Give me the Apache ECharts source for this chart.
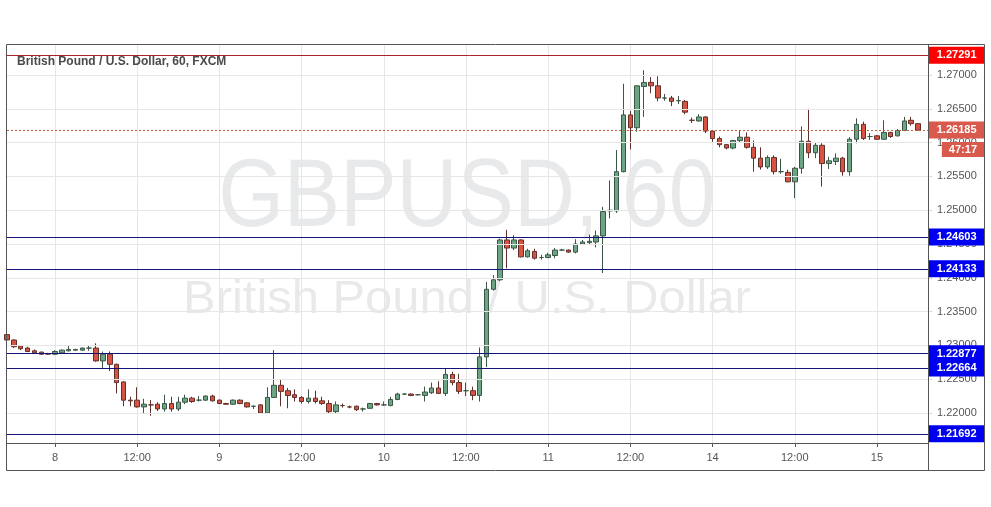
<!DOCTYPE html>
<html><head><meta charset="utf-8">
<script src="https://cdn.jsdelivr.net/npm/echarts@6/dist/echarts.min.js"></script>
<style>html,body{margin:0;padding:0;background:#fff}#c{width:991px;height:507px}</style>
</head><body><div id="c"></div>
<script>
// ---- data: hourly candles [open, close, low, high] per trading day ----
const dayBlocks = [['7',17,23],['8',0,23],['9',0,23],['10',0,23],['11',0,23],['14',0,23],['15',0,6]];
const day7 = [
[1.2316,1.2308,1.2306,1.2318],[1.2308,1.2298,1.2296,1.2309],[1.2299,1.2295,1.2293,1.2300],
[1.2296,1.2291,1.2290,1.2298],[1.2292,1.2289,1.2288,1.2294],[1.2290,1.2287,1.2286,1.2291],
[1.2288,1.2287,1.2286,1.2289]];
const day8 = [
[1.2287,1.2291,1.2286,1.2293],[1.2289,1.2293,1.2288,1.2294],[1.2292,1.2294,1.2291,1.2300],
[1.2293,1.2294,1.2292,1.2295],[1.2293,1.2296,1.2292,1.2297],[1.2296,1.2296,1.2292,1.2300],
[1.2296,1.2277,1.2276,1.2303],[1.2277,1.2287,1.2265,1.2291],[1.2287,1.2272,1.2262,1.2291],
[1.2272,1.2245,1.2229,1.2273],[1.2246,1.2219,1.2210,1.2247],[1.2219,1.2218,1.2210,1.2224],
[1.2219,1.2209,1.2208,1.2238],[1.2209,1.2213,1.2200,1.2221],[1.2212,1.2212,1.2196,1.2219],
[1.2213,1.2206,1.2203,1.2216],[1.2206,1.2214,1.2202,1.2227],[1.2214,1.2206,1.2202,1.2224],
[1.2206,1.2216,1.2203,1.2224],[1.2216,1.2222,1.2213,1.2227],[1.2222,1.2217,1.2215,1.2224],
[1.2219,1.2219,1.2217,1.2225],[1.2219,1.2225,1.2218,1.2226],[1.2225,1.2218,1.2217,1.2227]];
const day9 = [
[1.2219,1.2214,1.2213,1.2220],[1.2214,1.2213,1.2212,1.2215],[1.2213,1.2219,1.2212,1.2220],
[1.2219,1.2214,1.2213,1.2220],[1.2215,1.2209,1.2208,1.2216],[1.2210,1.2210,1.2206,1.2211],
[1.2212,1.2200,1.2199,1.2213],[1.2200,1.2223,1.2200,1.2238],[1.2223,1.2241,1.2222,1.2293],
[1.2241,1.2232,1.2210,1.2250],[1.2233,1.2226,1.2207,1.2237],[1.2227,1.2223,1.2217,1.2235],
[1.2223,1.2217,1.2214,1.2225],[1.2217,1.2222,1.2214,1.2235],[1.2222,1.2217,1.2214,1.2233],
[1.2218,1.2214,1.2212,1.2224],[1.2214,1.2202,1.2199,1.2219],[1.2202,1.2212,1.2199,1.2217],
[1.2211,1.2211,1.2208,1.2214],[1.2209,1.2209,1.2207,1.2211],[1.2210,1.2205,1.2203,1.2211],
[1.2206,1.2206,1.2202,1.2208],[1.2207,1.2214,1.2206,1.2215],[1.2214,1.2212,1.2211,1.2215]];
const day10 = [
[1.2212,1.2212,1.2211,1.2217],[1.2211,1.2220,1.2210,1.2224],[1.2220,1.2228,1.2219,1.2230],
[1.2228,1.2228,1.2227,1.2229],[1.2228,1.2226,1.2225,1.2229],[1.2227,1.2227,1.2226,1.2228],
[1.2226,1.2231,1.2217,1.2239],[1.2230,1.2237,1.2228,1.2245],[1.2237,1.2229,1.2228,1.2247],
[1.2229,1.2257,1.2225,1.2266],[1.2257,1.2245,1.2241,1.2261],[1.2245,1.2232,1.2228,1.2258],
[1.2233,1.2233,1.2225,1.2245],[1.2233,1.2226,1.2219,1.2239],[1.2226,1.2283,1.2217,1.2297],
[1.2283,1.2383,1.2268,1.2394],[1.2383,1.2397,1.2381,1.2404],[1.2397,1.2456,1.2395,1.2458],
[1.2456,1.2444,1.2414,1.2471],[1.2444,1.2456,1.2441,1.2463],[1.2456,1.2431,1.2430,1.2457],
[1.2431,1.2440,1.2430,1.2443],[1.2439,1.2429,1.2427,1.2443],[1.2430,1.2430,1.2427,1.2434]];
const day11 = [
[1.2430,1.2434,1.2429,1.2437],[1.2433,1.2441,1.2429,1.2444],[1.2441,1.2441,1.2440,1.2443],
[1.2441,1.2438,1.2437,1.2442],[1.2438,1.2450,1.2436,1.2457],[1.2450,1.2453,1.2449,1.2456],
[1.2452,1.2454,1.2450,1.2464],[1.2453,1.2462,1.2445,1.2470],[1.2462,1.2498,1.2407,1.2505],
[1.2499,1.2500,1.2488,1.2544],[1.2499,1.2557,1.2496,1.2589],[1.2557,1.2641,1.2556,1.2687],
[1.2641,1.2622,1.2590,1.2647],[1.2622,1.2684,1.2616,1.2685],[1.2683,1.2689,1.2638,1.2707],
[1.2689,1.2684,1.2673,1.2697],[1.2684,1.2666,1.2661,1.2698],[1.2666,1.2666,1.2662,1.2672],
[1.2666,1.2661,1.2654,1.2669],[1.2662,1.2662,1.2657,1.2669],[1.2661,1.2645,1.2642,1.2663],
[1.2633,1.2633,1.2629,1.2637],[1.2632,1.2638,1.2631,1.2642],[1.2638,1.2617,1.2614,1.2639]];
const day14 = [
[1.2617,1.2606,1.2601,1.2618],[1.2606,1.2597,1.2593,1.2609],[1.2597,1.2592,1.2590,1.2598],
[1.2592,1.2603,1.2590,1.2604],[1.2603,1.2608,1.2601,1.2618],[1.2608,1.2593,1.2591,1.2615],
[1.2593,1.2577,1.2557,1.2603],[1.2577,1.2564,1.2560,1.2593],[1.2564,1.2578,1.2561,1.2581],
[1.2578,1.2557,1.2553,1.2581],[1.2557,1.2557,1.2554,1.2576],[1.2556,1.2542,1.2541,1.2560],
[1.2542,1.2562,1.2518,1.2564],[1.2562,1.2602,1.2554,1.2624],[1.2602,1.2585,1.2577,1.2650],
[1.2585,1.2596,1.2577,1.2600],[1.2596,1.2569,1.2535,1.2599],[1.2569,1.2573,1.2561,1.2579],
[1.2572,1.2577,1.2567,1.2584],[1.2577,1.2557,1.2551,1.2579],[1.2557,1.2605,1.2551,1.2608],
[1.2605,1.2627,1.2599,1.2636],[1.2627,1.2606,1.2604,1.2631],[1.2609,1.2609,1.2604,1.2614]];
const day15 = [
[1.2610,1.2605,1.2604,1.2611],[1.2605,1.2615,1.2604,1.2633],[1.2615,1.2609,1.2607,1.2616],
[1.2610,1.2618,1.2609,1.2620],[1.2618,1.2632,1.2617,1.2638],[1.2633,1.2628,1.2625,1.2638],
[1.2628,1.26185,1.2618,1.2629]];

const blueLevels = [1.24603, 1.24133, 1.22877, 1.22664, 1.21692];
const redLevels = [1.27291];
const lastPrice = 1.26185;
const countdown = '47:17';
const yTicks = [1.22,1.225,1.23,1.235,1.24,1.245,1.25,1.255,1.26,1.265,1.27];
const yMin = 1.215562, yMax = 1.274586;
const titleText = 'British Pound / U.S. Dollar, 60, FXCM';
const wmSymbol = 'GBPUSD, 60';
const wmName = 'British Pound / U.S. Dollar';

// ---- build categories & series ----
const categories = [], catLabels = [];
dayBlocks.forEach(([d, h0, h1]) => {
  for (let h = h0; h <= h1; h++) {
    categories.push(d + ' ' + String(h).padStart(2, '0') + ':00');
    catLabels.push(h === 0 ? d : (h === 12 ? '12:00' : ''));
  }
});
categories.push('', ''); catLabels.push('', '');
const candles = [].concat(day7, day8, day9, day10, day11, day14, day15);
const showIdx = (i) => catLabels[i] !== '';

const FONT = '"Liberation Sans", Arial, sans-serif';
const tagLabel = (bg) => ({
  show: true, position: 'end', distance: -3,
  formatter: (p) => Number(p.value).toFixed(5),
  color: '#fff', fontWeight: 'bold', fontSize: 11, fontFamily: FONT,
  backgroundColor: bg, padding: [2, 8, 2, 8], lineHeight: 13
});
const levelSeries = (values, lineColor, lineType, tagBg, z) => ({
  type: 'line', data: [], z: z, silent: true, showSymbol: false,
  markLine: { silent: true, symbol: ['none', 'none'], precision: 5, animation: false,
    lineStyle: { color: lineColor, width: 1, type: lineType, opacity: 1 },
    label: tagLabel(tagBg),
    emphasis: { disabled: true },
    data: values.map(v => ({ yAxis: v })) }
});

const chart = echarts.init(document.getElementById('c'), null, { renderer: 'canvas' });
const option = {
  animation: false,
  backgroundColor: '#ffffff',
  textStyle: { fontFamily: FONT },
  title: { text: titleText, left: 12, top: 51, textStyle: { fontSize: 12, fontWeight: 'bold', color: '#4a4a4a', fontFamily: FONT } },
  grid: { left: 7, top: 44, width: 924.75, height: 399, containLabel: false },
  xAxis: {
    type: 'category', data: categories, boundaryGap: false,
    axisLine: { show: false },
    axisTick: { show: true, interval: showIdx, length: 4, lineStyle: { color: '#555' } },
    axisLabel: { interval: showIdx, formatter: (v, i) => catLabels[i], color: '#555', fontSize: 11, margin: 9, fontFamily: FONT },
    splitLine: { show: true, interval: showIdx, lineStyle: { color: '#e6e6e6', width: 1 } }
  },
  yAxis: {
    type: 'value', position: 'right', offset: -3.75, min: yMin, max: yMax,
    axisLine: { show: false },
    axisTick: { show: true, length: 4, customValues: yTicks, lineStyle: { color: '#555' } },
    axisLabel: { color: '#555', fontSize: 11, margin: 9, fontFamily: FONT, customValues: yTicks,
      formatter: (v) => Number(v).toFixed(5) },
    splitLine: { show: false }
  },
  series: [
    { // horizontal price grid, drawn through the y scale
      type: 'line', data: [], z: 1, silent: true, showSymbol: false,
      markLine: { silent: true, symbol: ['none', 'none'], precision: 5, animation: false, label: { show: false },
        lineStyle: { color: '#e6e6e6', width: 1, type: 'solid' },
        data: yTicks.map(v => ({ yAxis: v })) }
    },
    {
      type: 'candlestick', data: candles, barWidth: 5, clip: true, z: 3,
      itemStyle: { color: '#6ba583', borderColor: '#3b5646', color0: '#d75442', borderColor0: '#62302a', borderWidth: 1 }
    },
    levelSeries(redLevels, '#a8222e', 'solid', '#ff0000', 4),
    levelSeries([lastPrice], '#c0603f', [2, 2], '#d9594c', 4),
    levelSeries(blueLevels, '#13137a', 'solid', '#0000f0', 4)
  ],
  graphic: [
    { type: 'text', z: -10, x: 467, y: 200, scaleX: 0.88,
      style: { text: wmSymbol, fontSize: 96, fontFamily: FONT, fill: 'rgba(120,123,134,0.17)', align: 'center', verticalAlign: 'middle' } },
    { type: 'text', z: -10, x: 467, y: 300, scaleX: 1.04,
      style: { text: wmName, fontSize: 47, fontFamily: FONT, fill: 'rgba(120,123,134,0.17)', align: 'center', verticalAlign: 'middle' } },
    { type: 'rect', z: 50, shape: { x: 6.5, y: 44.5, width: 978, height: 426 }, style: { fill: 'none', stroke: '#555', lineWidth: 1 } },
    { type: 'line', z: 50, shape: { x1: 928.5, y1: 44, x2: 928.5, y2: 470 }, style: { stroke: '#555', lineWidth: 1 } },
    { type: 'line', z: 50, shape: { x1: 6, y1: 443.5, x2: 928.5, y2: 443.5 }, style: { stroke: '#555', lineWidth: 1 } }
  ]
};
chart.setOption(option);

// countdown tag under the last-price tag, placed via the axis scale
const yLast = chart.convertToPixel({ yAxisIndex: 0 }, lastPrice);
option.graphic.push({
  type: 'text', z: 60, x: 984, y: yLast + 12,
  style: { text: countdown, fontSize: 11, fontWeight: 'bold', fontFamily: FONT, fill: '#fff', align: 'right', verticalAlign: 'top',
    backgroundColor: '#d9594c', padding: [2, 7, 2, 7], lineHeight: 11 }
});
chart.setOption({ graphic: option.graphic });
</script></body></html>
